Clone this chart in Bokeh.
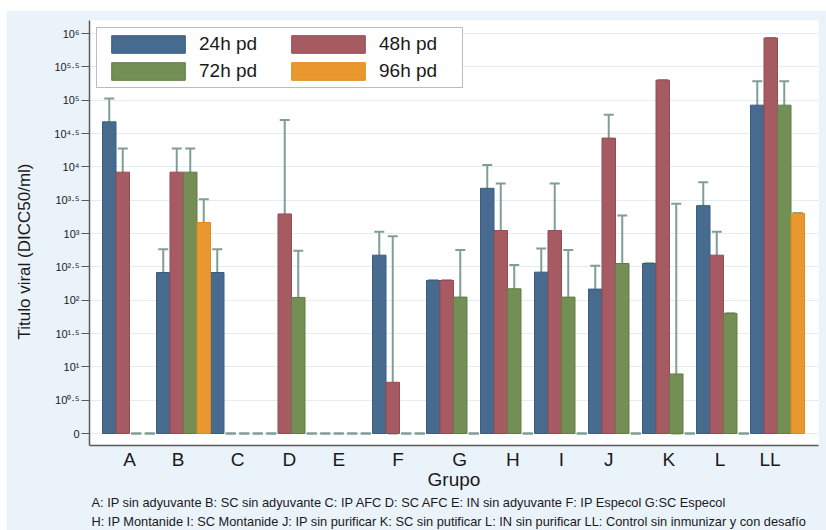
import numpy as np
from bokeh.plotting import figure
from bokeh.models import (ColumnDataSource, Whisker, TeeHead, FixedTicker, Range1d, Title,
                          LinearAxis)
from bokeh.embed import file_html
from bokeh.resources import INLINE

# ---------------- data (log10 titres) ----------------
groups = ["A", "B", "C", "D", "E", "F", "G", "H", "I", "J", "K", "L", "LL"]
series = ["24h pd", "48h pd", "72h pd", "96h pd"]

h24 = [4.675, 2.415, 2.415, 0, 0, 2.675, 2.296, 3.678, 2.42, 2.166, 2.55, 3.418, 4.925]
h48 = [3.92, 3.92, 0, 3.293, 0, 0.768, 2.296, 3.044, 3.044, 4.431, 5.30, 2.675, 5.933]
h72 = [0, 3.92, 0, 2.041, 0, 0, 2.046, 2.171, 2.046, 2.55, 0.893, 1.801, 4.925]
h96 = [0, 3.164, 0, 0, 0, 0, 0, 0, 0, 0, 0, 0, 3.303]

e24 = [0.35, 0.35, 0.35, 0, 0, 0.35, 0, 0.35, 0.355, 0.35, 0, 0.35, 0.357]
e48 = [0.356, 0.356, 0, 1.41, 0, 2.19, 0, 0.706, 0.706, 0.35, 0, 0.35, 0]
e72 = [0, 0.356, 0, 0.70, 0, 0, 0.706, 0.357, 0.706, 0.72, 2.555, 0, 0.357]
e96 = [0, 0.35, 0, 0, 0, 0, 0, 0, 0, 0, 0, 0, 0]

# group label positions (in bar-slot units)
label_pos = [1.5, 5.1, 9.5, 13.35, 17.0, 21.4, 25.95, 29.9, 33.5, 37.0, 41.45, 45.25, 48.95]

y_ticks = [0, 0.5, 1, 1.5, 2, 2.5, 3, 3.5, 4, 4.5, 5, 5.5, 6]
y_tick_labels = ["0", "10\u2070\u00b7\u2075", "10\u00b9", "10\u00b9\u00b7\u2075", "10\u00b2",
                 "10\u00b2\u00b7\u2075", "10\u00b3", "10\u00b3\u00b7\u2075", "10\u2074",
                 "10\u2074\u00b7\u2075", "10\u2075", "10\u2075\u00b7\u2075", "10\u2076"]

y_title = "Titulo viral (DICC50/ml)"
x_title = "Grupo"
notes = ["A: IP sin adyuvante B: SC sin adyuvante C: IP AFC D: SC AFC E: IN sin adyuvante F: IP Especol G:SC Especol",
         "H: IP Montanide I: SC Montanide J: IP sin purificar K: SC sin putificar L: IN sin purificar LL: Control sin inmunizar y con desafío"]

# ---------------- styling ----------------
fills = ["#476b8f", "#a65b62", "#748f55", "#e9972f"]
lines = ["#3b5d80", "#944b52", "#627d44", "#e08a20"]
FONT = "Liberation Sans"
BG = "#eaf2fa"
TXT = "#1a1a1a"

p = figure(width=820, height=520, output_backend="svg", toolbar_location=None,
           x_range=Range1d(-1.463, 52.537), y_range=Range1d(-0.18, 6.195),
           min_border_left=83, min_border_right=8, min_border_top=10, min_border_bottom=84,
           background_fill_color="white", border_fill_color=BG, outline_line_color=None)
p.margin = (10, 0, 0, 6)

vals = [h24, h48, h72, h96]
errs = [e24, e48, e72, e96]
nser = len(series)

wx, wup, wlo = [], [], []
for s in range(nser):
    xs, tops = [], []
    for g in range(len(groups)):
        v = vals[s][g]
        e = errs[s][g]
        x = g * nser + s
        wx.append(x)
        wup.append(v + e)
        wlo.append(max(0.0, v - e))
        if v > 0:
            xs.append(x)
            tops.append(v)
    src = ColumnDataSource(dict(x=xs, top=tops))
    p.vbar(x="x", top="top", bottom=0, width=1.0, source=src,
           fill_color=fills[s], line_color=lines[s], line_width=1,
           legend_label=series[s])

wsrc = ColumnDataSource(dict(base=wx, upper=wup, lower=wlo))
wcol = "#809e96"
whisk = Whisker(source=wsrc, base="base", upper="upper", lower="lower",
                line_color=wcol, line_width=2,
                upper_head=TeeHead(size=10, line_color=wcol, line_width=2),
                lower_head=TeeHead(size=10, line_color=wcol, line_width=2))
p.add_layout(whisk)

# axes
axis_col = "#5a5a5a"
p.xaxis.ticker = FixedTicker(ticks=label_pos)
p.xaxis.major_label_overrides = {float(k): v for k, v in zip(label_pos, groups)}
p.xaxis.major_tick_out = 0
p.xaxis.major_tick_in = 0
p.xaxis.minor_tick_out = 0
p.xaxis.minor_tick_in = 0
p.xaxis.axis_line_color = axis_col
p.xaxis.axis_line_width = 1.5
p.xaxis.major_label_text_font = FONT
p.xaxis.major_label_text_font_size = "19px"
p.xaxis.major_label_text_color = TXT
p.xaxis.major_label_standoff = 3
p.xaxis.axis_label = x_title
p.xaxis.axis_label_text_font = FONT
p.xaxis.axis_label_text_font_size = "19px"
p.xaxis.axis_label_text_font_style = "normal"
p.xaxis.axis_label_text_color = TXT
p.xaxis.axis_label_standoff = -4

p.yaxis.ticker = FixedTicker(ticks=y_ticks)
p.yaxis.major_label_overrides = {float(k): v for k, v in zip(y_ticks, y_tick_labels)}
p.yaxis.major_tick_out = 8
p.yaxis.major_tick_in = 0
p.yaxis.minor_tick_out = 0
p.yaxis.minor_tick_in = 0
p.yaxis.major_tick_line_color = axis_col
p.yaxis.axis_line_color = axis_col
p.yaxis.axis_line_width = 1.5
p.yaxis.major_label_text_font = FONT
p.yaxis.major_label_text_font_size = "11px"
p.yaxis.major_label_text_color = TXT
p.yaxis.major_label_standoff = 2

# blank spacer axis (one background-coloured tick) between tick labels and y title
spacer = LinearAxis(ticker=FixedTicker(ticks=[3]), axis_line_color=None,
                    major_tick_line_color=BG, minor_tick_line_color=None,
                    major_tick_out=17, minor_tick_out=0, major_tick_in=0, minor_tick_in=0,
                    major_label_overrides={3: ""}, major_label_standoff=0)
p.add_layout(spacer, "left")

# y title as a left-side title so it can sit lower than the frame centre
p.add_layout(Title(text=y_title, align="left", offset=106, vertical_align="middle",
                   standoff=0, text_font=FONT, text_font_size="17px",
                   text_font_style="normal", text_color=TXT), "left")

p.xgrid.grid_line_color = None
p.ygrid.ticker = FixedTicker(ticks=y_ticks)
p.ygrid.grid_line_color = "#e3ecf2"
p.ygrid.grid_line_width = 1

# legend
lg = p.legend[0]
lg.location = "top_left"
lg.margin = 7
lg.orientation = "horizontal"
lg.ncols = 2
lg.glyph_width = 92
lg.glyph_height = 22
lg.label_standoff = 5
lg.label_width = 78
lg.spacing = 5
lg.padding = 5
lg.label_text_font = FONT
lg.label_text_font_size = "19px"
lg.label_text_color = TXT
lg.border_line_color = "#7a7a7a"
lg.border_line_width = 1.5
lg.background_fill_color = "white"
lg.background_fill_alpha = 1.0

# notes below the axis title
for i, line in enumerate(notes):
    p.add_layout(Title(text=line, align="left", offset=2, standoff=(0 if i == 0 else 4),
                       text_font=FONT, text_font_size="12.8px",
                       text_font_style="normal", text_color=TXT), "below")

open("out.html", "w").write(file_html(p, INLINE))
